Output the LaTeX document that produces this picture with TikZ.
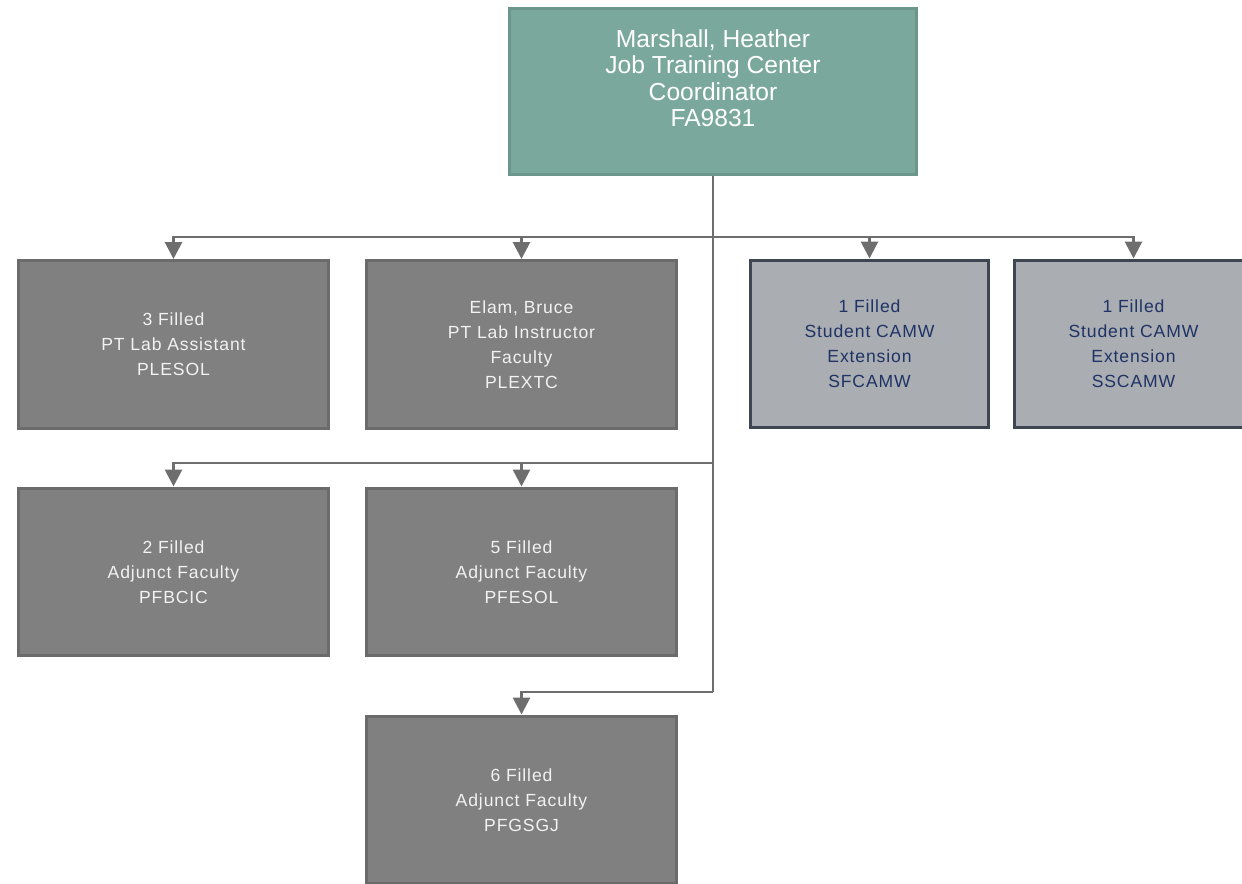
\documentclass[tikz,border=0pt]{standalone}
\usepackage{fontspec}
\setmainfont{Liberation Sans}[LetterSpace=5]
\newfontfamily\leadfont{Liberation Sans}
\usetikzlibrary{arrows.meta}

\definecolor{leadfill}{HTML}{7BA89D}
\definecolor{leadline}{HTML}{6A968B}
\definecolor{posfill}{HTML}{808080}
\definecolor{posline}{HTML}{6B6B6B}
\definecolor{studfill}{HTML}{AAADB1}
\definecolor{studline}{HTML}{3D4651}
\definecolor{studtext}{HTML}{1F3366}
\definecolor{linkcol}{HTML}{6E6E6E}

\begin{document}
\begin{tikzpicture}[x=0.02cm,y=-0.02cm]
            \tikzstyle{lead box}=[draw=leadline,fill=leadfill,line width=1.7pt,minimum width=8.14cm,minimum height=3.32cm,align=center,text=white,font=\leadfont\fontsize{14}{15.1}\selectfont];
            \tikzstyle{pos box}=[draw=posline,fill=posfill,line width=1.7pt,minimum width=6.2cm,minimum height=3.36cm,align=center,text=white!95!black,font=\fontsize{10}{14.2}\selectfont];
            \tikzstyle{stud box}=[draw=studline,fill=studfill,line width=1.7pt,minimum width=4.76cm,minimum height=3.36cm,align=center,text=studtext,font=\fontsize{10}{14.2}\selectfont];
            \tikzstyle{link}=[draw=linkcol,line width=1.6pt];
            \tikzstyle{arrow link}=[link,-{Triangle[width=0.34cm,length=0.34cm]}];
            \useasboundingbox (0,0) rectangle (1242,884);
            % head of the centre
            \node[lead box] (lead) at (713,91.5) {Marshall, Heather\\Job Training Center\\Coordinator\\FA9831\\\mbox{}};
            % first row
            \node[pos box] (a1) at (173.5,344.5) {3 Filled\\PT Lab Assistant\\PLESOL};
            \node[pos box] (a2) at (521.5,344.5) {Elam, Bruce\\PT Lab Instructor\\Faculty\\PLEXTC};
            \node[stud box] (a3) at (869.5,344) {1 Filled\\Student CAMW\\Extension\\SFCAMW};
            \node[stud box] (a4) at (1133.5,344) {1 Filled\\Student CAMW\\Extension\\SSCAMW};
            % second row
            \node[pos box] (b1) at (173.5,572) {2 Filled\\Adjunct Faculty\\PFBCIC};
            \node[pos box] (b2) at (521.5,572) {5 Filled\\Adjunct Faculty\\PFESOL};
            % third row
            \node[pos box] (c1) at (521.5,800) {6 Filled\\Adjunct Faculty\\PFGSGJ};
            % connectors
            \coordinate (j1) at (713,237);
            \coordinate (j2) at (713,463);
            \coordinate (j3) at (713,692);
            \draw[link] (lead.south) -- (j3);
            \foreach \n in {a1,a2,a3,a4} \draw[arrow link] (j1) -| (\n.north);
            \foreach \n in {b1,b2} \draw[arrow link] (j2) -| (\n.north);
            \draw[arrow link] (j3) -| (c1.north);
\end{tikzpicture}
\end{document}
